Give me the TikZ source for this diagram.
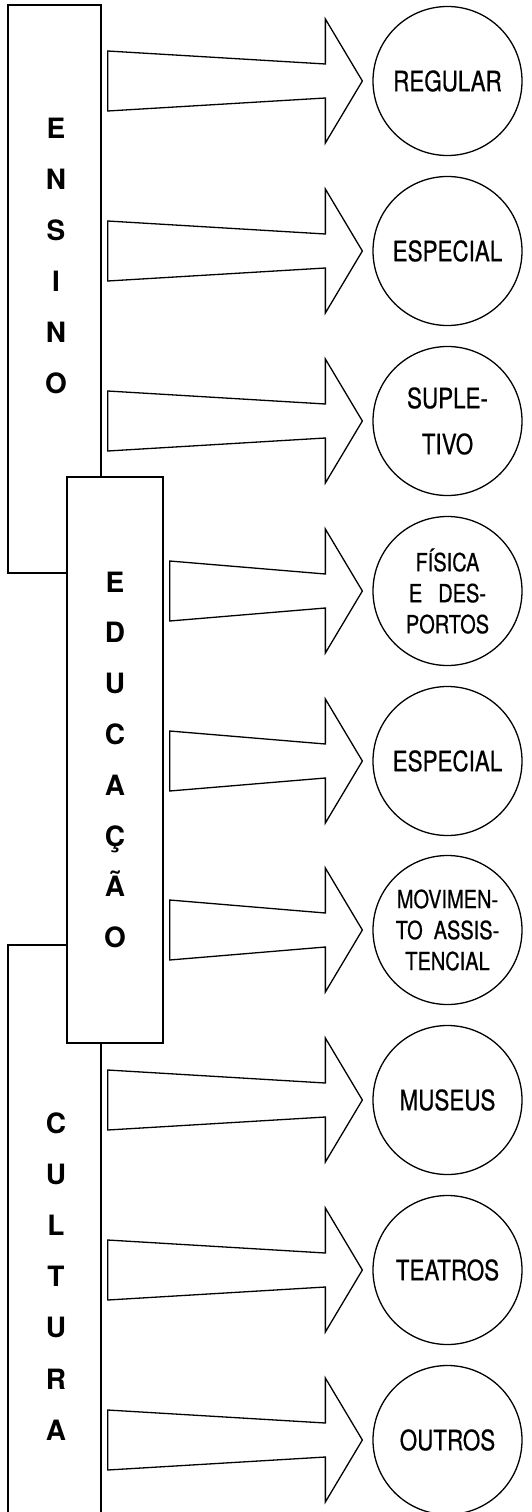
\documentclass[tikz,border=0pt]{standalone}
\usepackage{fontspec}
\setmainfont{TeX Gyre Heros}
\newfontfamily\estreita[FakeStretch=0.8,FakeBold=0.6]{TeX Gyre Heros}
\usetikzlibrary{calc}

\tikzset{
  caixa/.style={draw, line width=1.4pt, inner sep=0pt},
  letra/.style={font=\bfseries\fontsize{28}{28}\selectfont, inner sep=0pt, text height=20pt, text depth=0pt},
  circulo/.style={draw, circle, line width=1.3pt, minimum size=149pt, inner sep=0pt, align=center, font=\estreita\fontsize{28}{46}\selectfont},
  pequeno/.style={font=\estreita\fontsize{25}{31}\selectfont},
  seta/.style={draw, line width=1.3pt, line join=miter},
}

% block arrow from box #1 to circle #2
\newcommand{\blocoseta}[2]{%
  \draw[seta] ($(#1.east |- #2.center)+(6,-30)$) -- ($(#2.west)+(-47,-17)$) -- ($(#2.west)+(-47,-62)$)
    -- ($(#2.west)+(-10,0)$) -- ($(#2.west)+(-47,62)$) -- ($(#2.west)+(-47,17)$)
    -- ($(#1.east |- #2.center)+(6,30)$) -- cycle;}

\begin{document}
\begin{tikzpicture}[x=1pt,y=1pt,yscale=-1,xscale=1]
  \useasboundingbox (0,0) rectangle (532,1512);

  % Boxes
  \node[caixa, minimum width=93pt, minimum height=585pt] (cultura) at (54.5,1237.5) {};
  \node[caixa, minimum width=93pt, minimum height=568pt] (ensino) at (54.5,289) {};
  \node[caixa, fill=white, minimum width=96pt, minimum height=566pt] (educacao) at (115,760) {};

  % Text Nodes
  \foreach \l [count=\i] in {E,N,S,I,N,O}
    \node[letra] (ens\i) at (56,77+51*\i) {\l};
  \foreach \l [count=\i] in {E,D,U,C,A,Ç,Ã,O}
    \node[letra] (edu\i) at (115,531.2+50.8*\i) {\l};
  \foreach \l [count=\i] in {C,U,L,T,U,R,A}
    \node[letra] (cul\i) at (56,1071.8+51.2*\i) {\l};

  % Circles
  \node[circulo] (regular) at (447.5,81) {REGULAR};
  \node[circulo] (especial) at (447.5,251) {ESPECIAL};
  \node[circulo] (supletivo) at (447.5,421) {SUPLE-\\TIVO};
  \node[circulo, pequeno] (fisica) at (447.5,591) {FÍSICA\\E\hspace{16pt}DES-\\PORTOS};
  \node[circulo] (especialb) at (447.5,761) {ESPECIAL};
  \node[circulo, pequeno] (movimento) at (447.5,930) {MOVIMEN-\\TO\hspace{11pt}ASSIS-\\TENCIAL};
  \node[circulo] (museus) at (447.5,1100) {MUSEUS};
  \node[circulo] (teatros) at (447.5,1270) {TEATROS};
  \node[circulo] (outros) at (447.5,1440) {OUTROS};

  % Arrows
  \blocoseta{ensino}{regular}
  \blocoseta{ensino}{especial}
  \blocoseta{ensino}{supletivo}
  \blocoseta{educacao}{fisica}
  \blocoseta{educacao}{especialb}
  \blocoseta{educacao}{movimento}
  \blocoseta{cultura}{museus}
  \blocoseta{cultura}{teatros}
  \blocoseta{cultura}{outros}
\end{tikzpicture}
\end{document}
